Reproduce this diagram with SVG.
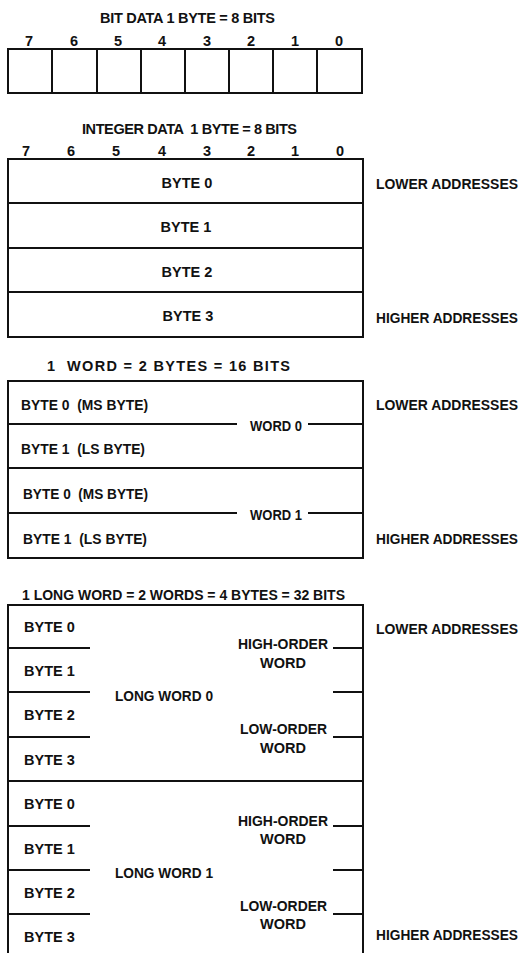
<svg xmlns="http://www.w3.org/2000/svg" width="524" height="953" viewBox="0 0 524 953">
<style>
text{font-family:"Liberation Sans",Arial,sans-serif;font-weight:bold;font-size:14.5px;fill:#111;white-space:pre}
.m{text-anchor:middle}
.a{font-size:13.8px}
.box{fill:none;stroke:#111;stroke-width:2}
.ln{stroke:#111;stroke-width:2;fill:none}
</style>
<rect width="524" height="953" fill="#fff"/>

<g id="bit-data">
<text x="100" y="23" textLength="175" lengthAdjust="spacing">BIT DATA 1 BYTE = 8 BITS</text>
<text class="m" x="29" y="46">7</text><text class="m" x="74" y="46">6</text><text class="m" x="118" y="46">5</text><text class="m" x="162" y="46">4</text>
<text class="m" x="207" y="46">3</text><text class="m" x="251" y="46">2</text><text class="m" x="295" y="46">1</text><text class="m" x="339" y="46">0</text>
<rect class="box" x="8" y="49" width="354" height="44"/>
<path class="ln" d="M52 49V93M97 49V93M141 49V93M185 49V93M229 49V93M273 49V93M317 49V93"/>
</g>

<g id="integer-data">
<text x="82" y="134" textLength="215" lengthAdjust="spacing">INTEGER DATA  1 BYTE = 8 BITS</text>
<text class="m" x="26" y="156">7</text><text class="m" x="71" y="156">6</text><text class="m" x="116" y="156">5</text><text class="m" x="162" y="156">4</text>
<text class="m" x="207" y="156">3</text><text class="m" x="251" y="156">2</text><text class="m" x="295" y="156">1</text><text class="m" x="340" y="156">0</text>
<rect class="box" x="8" y="159" width="355" height="178"/>
<path class="ln" d="M8 203H363M8 248H363M8 292H363"/>
<text class="m" x="187" y="188">BYTE 0</text>
<text class="m" x="186" y="232">BYTE 1</text>
<text class="m" x="187" y="277">BYTE 2</text>
<text class="m" x="188" y="321">BYTE 3</text>
<text class="a" x="376" y="189" textLength="142" lengthAdjust="spacingAndGlyphs">LOWER ADDRESSES</text>
<text class="a" x="376" y="323" textLength="142" lengthAdjust="spacingAndGlyphs">HIGHER ADDRESSES</text>
</g>

<g id="word-data">
<text x="47" y="371" textLength="243" lengthAdjust="spacing">1  WORD = 2 BYTES = 16 BITS</text>
<rect class="box" x="8" y="381" width="355" height="177"/>
<path class="ln" d="M8 468H363"/>
<text x="21" y="410" textLength="127" lengthAdjust="spacingAndGlyphs">BYTE 0  (MS BYTE)</text>
<text x="21" y="454" textLength="124" lengthAdjust="spacingAndGlyphs">BYTE 1  (LS BYTE)</text>
<text x="23" y="499" textLength="125" lengthAdjust="spacingAndGlyphs">BYTE 0  (MS BYTE)</text>
<text x="23" y="544" textLength="124" lengthAdjust="spacingAndGlyphs">BYTE 1  (LS BYTE)</text>
<text x="250" y="431" textLength="52" lengthAdjust="spacingAndGlyphs">WORD 0</text>
<text x="250" y="520" textLength="52" lengthAdjust="spacingAndGlyphs">WORD 1</text>
<text class="a" x="376" y="410" textLength="142" lengthAdjust="spacingAndGlyphs">LOWER ADDRESSES</text>
<text class="a" x="376" y="544" textLength="142" lengthAdjust="spacingAndGlyphs">HIGHER ADDRESSES</text>
</g>

<g id="long-word-data">
<text x="22" y="600" textLength="323" lengthAdjust="spacingAndGlyphs">1 LONG WORD = 2 WORDS = 4 BYTES = 32 BITS</text>
<path class="box" d="M8 953V605H363V953"/>
<path class="ln" d="M8 781H363"/>
<text x="24" y="632">BYTE 0</text>
<text x="24" y="676">BYTE 1</text>
<text x="24" y="720">BYTE 2</text>
<text x="24" y="765">BYTE 3</text>
<text x="24" y="809">BYTE 0</text>
<text x="24" y="854">BYTE 1</text>
<text x="24" y="898">BYTE 2</text>
<text x="24" y="942">BYTE 3</text>
<text x="115" y="701" textLength="98" lengthAdjust="spacingAndGlyphs">LONG WORD 0</text>
<text x="115" y="878" textLength="98" lengthAdjust="spacingAndGlyphs">LONG WORD 1</text>
<text x="238" y="649" textLength="90" lengthAdjust="spacingAndGlyphs">HIGH-ORDER</text>
<text class="m" x="283" y="668">WORD</text>
<text x="240" y="734" textLength="87" lengthAdjust="spacingAndGlyphs">LOW-ORDER</text>
<text class="m" x="283" y="753">WORD</text>
<text x="238" y="826" textLength="90" lengthAdjust="spacingAndGlyphs">HIGH-ORDER</text>
<text class="m" x="283" y="844">WORD</text>
<text x="240" y="911" textLength="87" lengthAdjust="spacingAndGlyphs">LOW-ORDER</text>
<text class="m" x="283" y="929">WORD</text>
<text class="a" x="376" y="634" textLength="142" lengthAdjust="spacingAndGlyphs">LOWER ADDRESSES</text>
<text class="a" x="376" y="940" textLength="142" lengthAdjust="spacingAndGlyphs">HIGHER ADDRESSES</text>
</g>

<g id="connectors">
<path class="ln" d="M8 424H237M308 424H363"/>
<path class="ln" d="M8 513H237M308 513H363"/>
<path class="ln" d="M8 648H90M8 692H90M8 737H90M8 826H90M8 870H90M8 914H90"/>
<path class="ln" d="M333 648H363M333 692H363M333 737H363M333 826H363M333 870H363M333 914H363"/>
</g>
</svg>
